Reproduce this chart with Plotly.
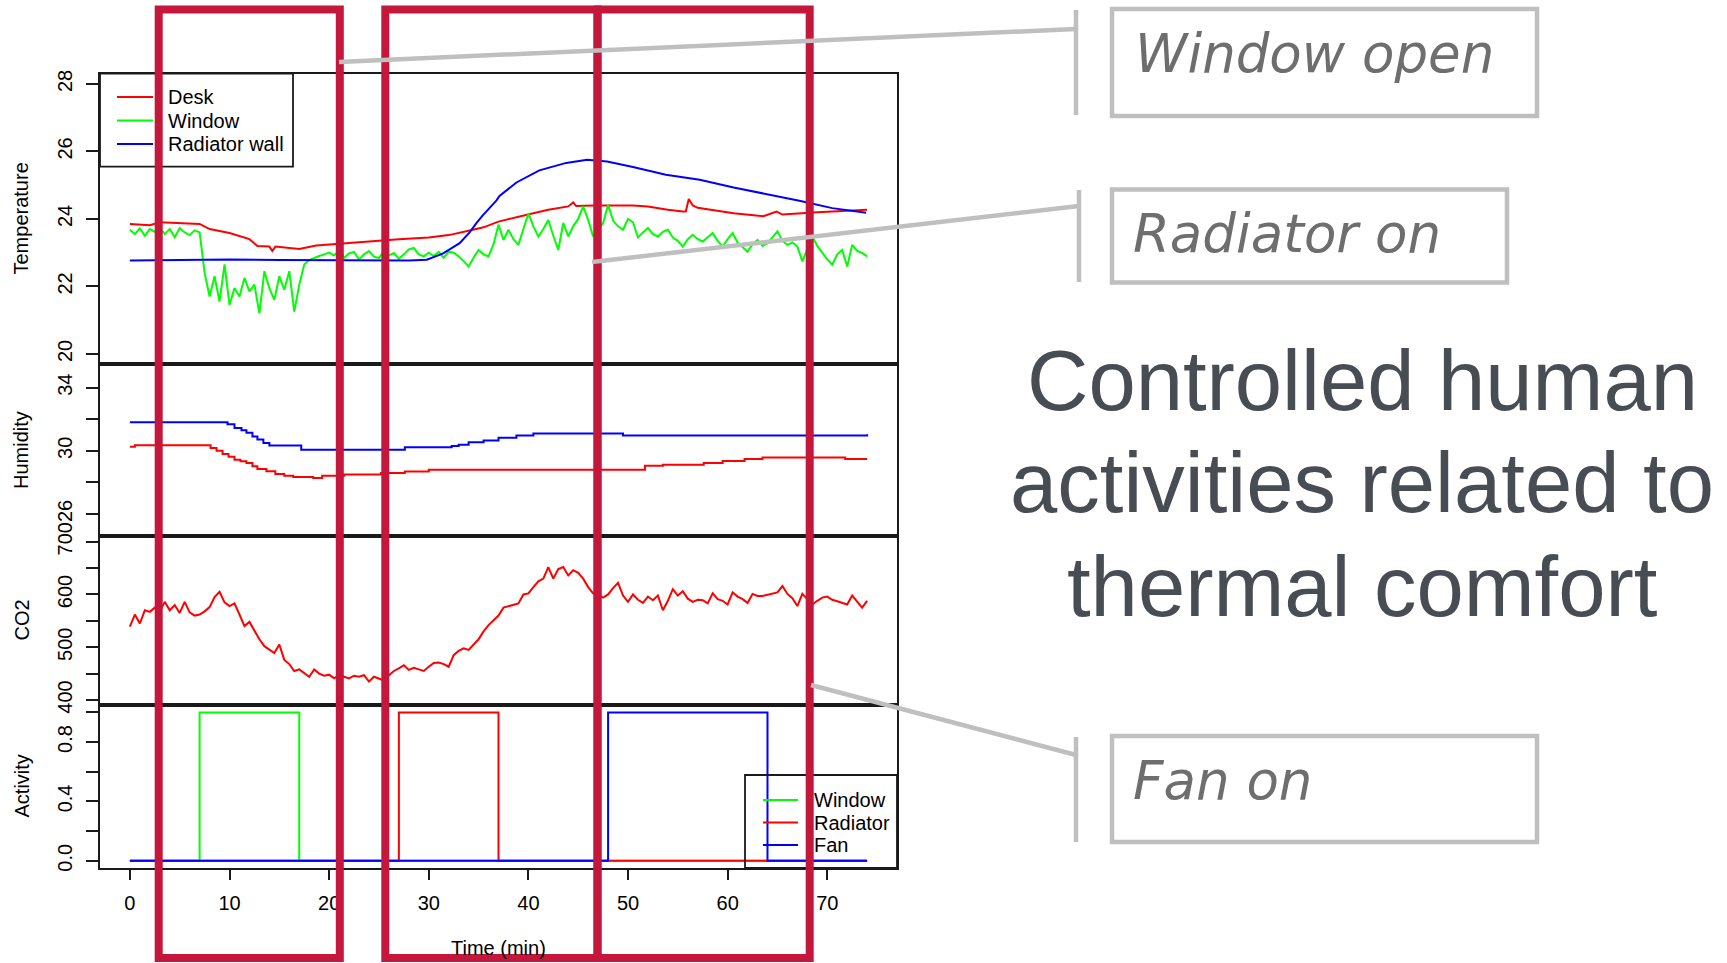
import plotly.graph_objects as go

W, H = 1727, 963

# ------------------------------------------------------------------ data
# Temperature (deg C) - window sensor, sampled every 0.5 min from 0 to 74 min
temp_window = [
    23.68, 23.55, 23.72, 23.50, 23.70, 23.62, 23.74, 23.55, 23.70, 23.46,
    23.73, 23.60, 23.52, 23.66, 23.60, 22.40, 21.70, 22.30, 21.55, 22.65,
    21.45, 21.95, 21.70, 22.25, 21.85, 22.05, 21.20, 22.45, 21.95, 21.60,
    22.30, 21.90, 22.45, 21.25, 22.05, 22.65, 22.78, 22.85, 22.90, 22.95,
    23.00, 22.92, 23.05, 22.85, 22.98, 23.02, 22.80, 22.95, 23.05, 22.88,
    22.84, 23.05, 22.92, 22.99, 22.82, 22.95, 23.10, 23.14, 22.95, 22.89,
    23.00, 22.90, 23.02, 22.85, 23.03, 23.00, 22.89, 22.75, 22.59, 22.85,
    23.08, 22.95, 22.89, 23.25, 23.83, 23.38, 23.68, 23.40, 23.23, 23.70,
    24.17, 23.78, 23.48, 23.70, 23.97, 23.50, 23.08, 23.88, 23.48, 23.78,
    24.00, 24.37, 23.97, 23.48, 23.70, 23.88, 24.42, 23.95, 23.78, 23.68,
    24.00, 23.90, 23.45, 23.60, 23.73, 23.55, 23.48, 23.62, 23.68, 23.45,
    23.35, 23.18, 23.40, 23.53, 23.40, 23.33, 23.45, 23.58, 23.35, 23.18,
    23.40, 23.58, 23.30, 23.15, 23.03, 23.25, 23.38, 23.20, 23.28, 23.45,
    23.63, 23.35, 23.23, 23.30, 23.18, 22.74, 23.10, 23.48, 23.20, 22.99,
    22.80, 22.64, 22.95, 23.08, 22.59, 23.23, 23.05, 22.99, 22.89,
]
# CO2 (ppm), sampled every 0.5 min from 0 to 74 min
co2 = [
    539, 562, 545, 570, 567, 575, 568, 586, 570, 580,
    565, 586, 566, 560, 562, 568, 576, 595, 605, 585,
    578, 583, 562, 540, 548, 530, 515, 502, 495, 489,
    505, 476, 468, 455, 458, 451, 444, 458, 450, 446,
    448, 441, 447, 444, 441, 446, 444, 447, 435, 444,
    441, 437, 447, 455, 460, 466, 457, 461, 458, 455,
    463, 470, 471, 468, 463, 485, 493, 498, 495, 505,
    515, 530, 542, 551, 560, 575, 578, 581, 583, 600,
    602, 614, 625, 630, 652, 630, 648, 652, 636, 646,
    641, 630, 614, 602, 599, 594, 600, 612, 622, 598,
    586, 600, 590, 584, 596, 589, 598, 570, 588, 610,
    598, 606, 592, 586, 590, 589, 583, 602, 591, 588,
    581, 604, 596, 591, 584, 601, 597, 597, 599, 602,
    604, 616, 601, 593, 578, 601, 590, 581, 588, 594,
    596, 590, 587, 584, 581, 598, 586, 575, 588,
]
SAMPLE_STEP = 0.5
grid_time = [i * SAMPLE_STEP for i in range(len(temp_window))]
co2_time = [i * SAMPLE_STEP for i in range(len(co2))]

# Temperature - desk sensor
desk_t = [0, 2, 3, 7, 8, 10, 12, 12.8, 14, 14.3, 14.6, 17, 18.7, 20.4, 23.8, 27, 30,
          32, 34, 35.5, 37, 39, 40.5, 42, 44, 44.5, 44.8, 46.5, 50.5, 52, 54, 55.5,
          55.8, 56.1, 56.5, 57, 59, 60.6, 63.6, 64.9, 65.5, 69, 74]
desk_v = [23.85, 23.81, 23.90, 23.85, 23.70, 23.58, 23.40, 23.20, 23.18, 23.05, 23.18,
          23.11, 23.21, 23.25, 23.33, 23.40, 23.45, 23.52, 23.65, 23.75, 23.92, 24.05,
          24.17, 24.27, 24.37, 24.49, 24.38, 24.40, 24.40, 24.37, 24.27, 24.22, 24.22,
          24.59, 24.40, 24.33, 24.25, 24.17, 24.08, 24.22, 24.13, 24.20, 24.27]
# Temperature - radiator wall sensor
radw_t = [0, 10, 15, 20, 25, 28, 29.8, 31.4, 33.1, 34.1, 34.8, 35.4, 36.8, 37.1, 38.8,
          41.1, 43.8, 45.9, 47.9, 50.5, 53.8, 57.2, 60.6, 63.9, 67.2, 70.5, 73.9]
radw_v = [22.77, 22.80, 22.78, 22.77, 22.76, 22.77, 22.79, 22.97, 23.28, 23.60, 23.88,
          24.10, 24.55, 24.68, 25.08, 25.44, 25.66, 25.75, 25.70, 25.54, 25.31, 25.16,
          24.93, 24.74, 24.54, 24.32, 24.18]

# Humidity (%)
hum_desk_t = [0, 0.5, 7.2, 8.1, 8.7, 9.3, 9.9, 10.5, 11.1, 11.7, 12.3, 12.8, 13.7, 14.6,
              15.5, 16.4, 18.4, 19.3, 21.5, 25.2, 27.6, 30, 50.8, 51.7, 53.5, 57.6, 59.5,
              61.7, 63.5, 71.8, 74]
hum_desk_v = [30.25, 30.35, 30.35, 30.18, 30.00, 29.80, 29.62, 29.44, 29.33, 29.23, 29.02,
              28.85, 28.70, 28.53, 28.42, 28.34, 28.27, 28.42, 28.50, 28.59, 28.69, 28.80,
              28.80, 29.05, 29.12, 29.23, 29.35, 29.48, 29.58, 29.48, 29.48]
hum_radw_t = [0, 9.2, 9.8, 10.5, 11.2, 11.7, 12.3, 12.8, 13.4, 14.0, 17.2, 27.6, 32.3,
              33.0, 34.0, 35.5, 37.0, 38.8, 40.5, 49.5, 73.8, 74]
hum_radw_v = [31.81, 31.81, 31.68, 31.45, 31.30, 31.14, 30.90, 30.71, 30.50, 30.33, 30.07,
              30.22, 30.30, 30.39, 30.54, 30.65, 30.82, 30.97, 31.09, 30.97, 30.97, 31.05]

# Activity (0/1)
act_window_t = [0, 7, 17, 74]
act_window_v = [0, 1, 0, 0]
act_radiator_t = [0, 27, 37, 74]
act_radiator_v = [0, 1, 0, 0]
act_fan_t = [0, 48, 64, 74]
act_fan_v = [0, 1, 0, 0]

temp_ticks = [20, 22, 24, 26, 28]
temp_labels = ["20", "22", "24", "26", "28"]
hum_ticks = [26, 28, 30, 32, 34]
hum_labels = ["26", "", "30", "", "34"]
co2_ticks = [400, 450, 500, 550, 600, 650, 700]
co2_labels = ["400", "", "500", "", "600", "", "700"]
act_ticks = [0, 0.2, 0.4, 0.6, 0.8, 1.0]
act_labels = ["0.0", "", "0.4", "", "0.8", ""]
time_ticks = [0, 10, 20, 30, 40, 50, 60, 70]
time_labels = ["0", "10", "20", "30", "40", "50", "60", "70"]

callout_labels = ["Window open", "Radiator on", "Fan on"]
headline = ["Controlled human", "activities related to", "thermal comfort"]

# ------------------------------------------------------------------ helpers
def px(x):
    return x / W


def py(y):
    return 1 - y / H


RED, GREEN, BLUE = "#FF0000", "#00FF00", "#0000FF"
FONT = "Liberation Sans, Arial, sans-serif"
LW = 2

fig = go.Figure()

# temperature
fig.add_trace(go.Scatter(x=desk_t, y=desk_v, mode="lines", line=dict(color=RED, width=LW),
                         name="Desk", xaxis="x", yaxis="y"))
fig.add_trace(go.Scatter(x=grid_time, y=temp_window, mode="lines", line=dict(color=GREEN, width=LW),
                         name="Window", xaxis="x", yaxis="y"))
fig.add_trace(go.Scatter(x=radw_t, y=radw_v, mode="lines", line=dict(color=BLUE, width=LW),
                         name="Radiator wall", xaxis="x", yaxis="y"))
# humidity
fig.add_trace(go.Scatter(x=hum_desk_t, y=hum_desk_v, mode="lines", line=dict(color=RED, width=LW, shape="hv"),
                         xaxis="x2", yaxis="y2"))
fig.add_trace(go.Scatter(x=hum_radw_t, y=hum_radw_v, mode="lines", line=dict(color=BLUE, width=LW, shape="hv"),
                         xaxis="x2", yaxis="y2"))
# co2
fig.add_trace(go.Scatter(x=co2_time, y=co2, mode="lines", line=dict(color=RED, width=LW),
                         xaxis="x3", yaxis="y3"))
# activity
fig.add_trace(go.Scatter(x=act_window_t, y=act_window_v, mode="lines", line=dict(color=GREEN, width=LW, shape="hv"),
                         xaxis="x4", yaxis="y4"))
fig.add_trace(go.Scatter(x=act_radiator_t, y=act_radiator_v, mode="lines", line=dict(color=RED, width=LW, shape="hv"),
                         xaxis="x4", yaxis="y4"))
fig.add_trace(go.Scatter(x=act_fan_t, y=act_fan_v, mode="lines", line=dict(color=BLUE, width=LW, shape="hv"),
                         xaxis="x4", yaxis="y4"))

XDOM = [px(100), px(897)]
XRANGE = [-3.0, 77.0]
FRAME = dict(showline=True, mirror=True, linecolor="#1a1a1a", linewidth=1.8,
             showgrid=False, zeroline=False, fixedrange=True, automargin=False)


def xax(anchor, bottom=False):
    d = dict(domain=XDOM, range=XRANGE, anchor=anchor, **FRAME)
    if bottom:
        d.update(ticks="outside", ticklen=10, tickwidth=1.6, tickcolor="#1a1a1a",
                 tickvals=time_ticks, ticktext=time_labels,
                 tickfont=dict(family=FONT, size=20, color="black"), ticklabelstandoff=6)
    else:
        d.update(showticklabels=False, ticks="")
    return d


def yax(dom, rng, tv, tt, anchor):
    return dict(domain=[py(dom[1]), py(dom[0])], range=rng, anchor=anchor, **FRAME,
                ticks="outside", ticklen=12, tickwidth=1.6, tickcolor="#1a1a1a",
                tickvals=tv, ticktext=tt, tickangle=-90,
                tickfont=dict(family=FONT, size=20, color="black"), ticklabelstandoff=6)


ya1 = yax((73.5, 364), [19.70, 28.31], temp_ticks, temp_labels, "x")
ya2 = yax((364, 536), [24.60, 35.50], hum_ticks, hum_labels, "x2")
ya3 = yax((536, 705), [390.5, 710.8], co2_ticks, co2_labels, "x3")
ya4 = yax((705, 868), [-0.049, 1.05], act_ticks, act_labels, "x4")

shapes = []
ann = []


def line(x0, y0, x1, y1, color, width):
    shapes.append(dict(type="line", xref="paper", yref="paper", x0=px(x0), y0=py(y0),
                       x1=px(x1), y1=py(y1), line=dict(color=color, width=width)))


def rect(x0, y0, x1, y1, color, width):
    shapes.append(dict(type="rect", xref="paper", yref="paper", x0=px(x0), y0=py(y0),
                       x1=px(x1), y1=py(y1), line=dict(color=color, width=width),
                       fillcolor="rgba(0,0,0,0)"))


def text(x, y, s, size, color, xanchor="left", angle=0, family=FONT, italic=False):
    ann.append(dict(xref="paper", yref="paper", x=px(x), y=py(y), text=s, showarrow=False,
                    xanchor=xanchor, yanchor="middle", textangle=angle,
                    font=dict(family=family, size=size, color=color,
                              style="italic" if italic else "normal")))


# legend: temperature panel
rect(100, 73.5, 293, 166.7, "#1a1a1a", 1.8)
for yy, c, s in [(97, RED, "Desk"), (120.5, GREEN, "Window"), (144, BLUE, "Radiator wall")]:
    line(117, yy, 153, yy, c, 2)
    text(166, yy, s, 20, "black")
# legend: activity panel
rect(745, 775, 897, 868, "#1a1a1a", 1.8)
for yy, c, s in [(800, GREEN, "Window"), (822.5, RED, "Radiator"), (845, BLUE, "Fan")]:
    line(763, yy, 798, yy, c, 2)
    text(812, yy, s, 20, "black")

# axis titles
text(21, 218.5, "Temperature", 20, "black", xanchor="center", angle=-90)
text(21, 450, "Humidity", 20, "black", xanchor="center", angle=-90)
text(21, 620.5, "CO2", 20, "black", xanchor="center", angle=-90)
text(21, 786.5, "Activity", 20, "black", xanchor="center", angle=-90)
text(498, 948, "Time (min)", 20, "black", xanchor="center")

# crimson highlight frames
CRIMSON = "#C4173B"
rect(158.7, 9.5, 339.8, 958, CRIMSON, 8)
rect(385.3, 9.5, 597.5, 958, CRIMSON, 8)
rect(597.5, 9.5, 809.7, 958, CRIMSON, 8)

# callouts
GRAY = "#BFBFBF"
TXT_GRAY = "#6E6E6E"
line(339, 62, 1076, 29, GRAY, 4.5)
line(1076, 10, 1076, 115, GRAY, 4.5)
rect(1112, 9, 1537, 116, GRAY, 4.5)
text(1133, 53.5, callout_labels[0], 53, TXT_GRAY, family="DejaVu Sans", italic=True)

line(592, 262, 1079, 206, GRAY, 4.5)
line(1079, 190, 1079, 282, GRAY, 4.5)
rect(1112, 189.5, 1507, 282.5, GRAY, 4.5)
text(1131, 233.5, callout_labels[1], 53, TXT_GRAY, family="DejaVu Sans", italic=True)

line(811, 685, 1076, 755, GRAY, 4.5)
line(1076, 737, 1076, 842, GRAY, 4.5)
rect(1112, 736, 1537, 842, GRAY, 4.5)
text(1131, 780, callout_labels[2], 53, TXT_GRAY, family="DejaVu Sans", italic=True)

# headline
HEAD = "#484C53"
for yy, s in zip([380.5, 482.5, 586.5], headline):
    text(1362, yy, s, 85, HEAD, xanchor="center")

fig.update_layout(
    template="none",
    width=W, height=H, margin=dict(l=0, r=0, t=0, b=0, pad=0, autoexpand=False),
    paper_bgcolor="white", plot_bgcolor="white", showlegend=False,
    xaxis=xax("y"), xaxis2=xax("y2"), xaxis3=xax("y3"), xaxis4=xax("y4", bottom=True),
    yaxis=ya1, yaxis2=ya2, yaxis3=ya3, yaxis4=ya4,
    shapes=shapes, annotations=ann,
    font=dict(family=FONT, color="black"),
)

fig.write_html("out.html", config={"displayModeBar": False})
